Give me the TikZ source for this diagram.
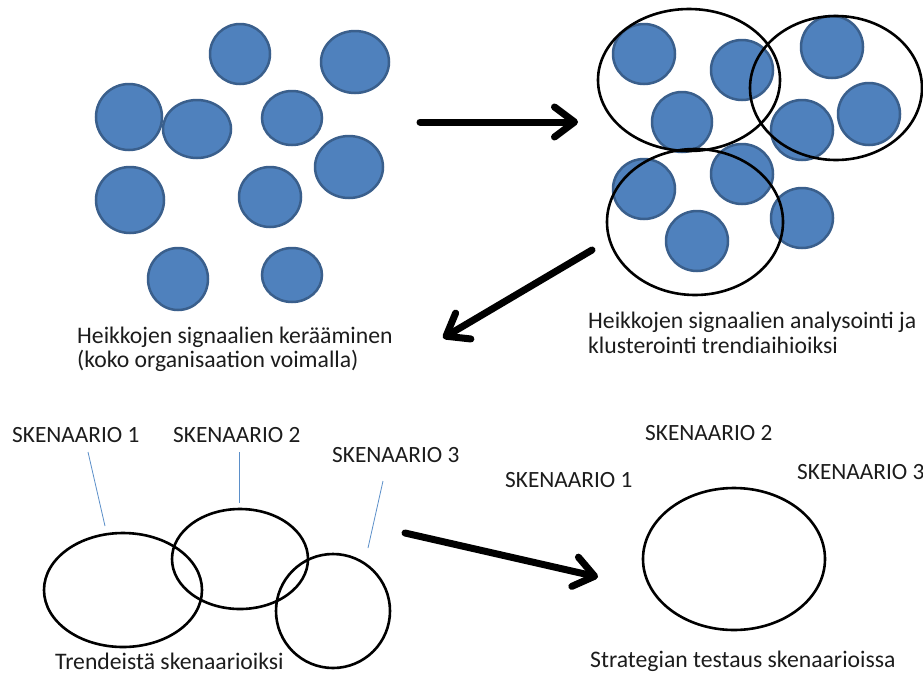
\documentclass[tikz,border=0pt]{standalone}
\usepackage{fontspec}
\setmainfont{Carlito}
\usetikzlibrary{arrows.meta}
\definecolor{dotfill}{HTML}{4F81BD}
\definecolor{dotedge}{HTML}{3A5F8C}
\definecolor{txt}{HTML}{1C1C1C}
\definecolor{pointer}{HTML}{5B8FC9}
\begin{document}
\begin{tikzpicture}[x=1pt,y=-1pt,
  dot/.style={fill=dotfill,draw=dotedge,line width=2.5pt},
  ring/.style={draw=black,line width=2.6pt},
  bigarrow/.style={line width=7pt,line cap=round,-{Straight Barb[length=20pt,width=30pt,round]}},
  thin/.style={draw=pointer,line width=0.8pt},
  lbl/.style={font=\fontsize{23.7}{24}\selectfont,text=txt,inner sep=0pt},
  skl/.style={font=\fontsize{23.3}{24}\selectfont,text=txt,inner sep=0pt,anchor=west}]
\useasboundingbox[fill=white] (0,0) rectangle (923,675);
% --- top left: collected weak signals
\foreach \x/\y/\a/\b in {240/54/30/30, 355/62/34/31, 129/117/33/33, 197/129/34/29,
  292/118/30/27, 349/167/34/31, 130/200/34/33, 270/197/31/30, 178/279/30/31, 292/275/30/27}
  \draw[dot] (\x,\y) ellipse [x radius=\a, y radius=\b];
% --- top right: clustered signals
\foreach \x/\y/\a/\b in {644/54/31/30, 742/70/31/30, 832/47/31/31, 682/122/30/30,
  802/130/31/30, 869/114/31/31, 644/189/31/30, 742/174/31/30, 802/218/31/30, 697/241/31/30}
  \draw[dot] (\x,\y) ellipse [x radius=\a, y radius=\b];
\draw[ring] (689,80) ellipse [x radius=91, y radius=71];
\draw[ring] (836,88) ellipse [x radius=86, y radius=72];
\draw[ring] (695,222) ellipse [x radius=88, y radius=73];
% --- arrows
\coordinate (a1s) at (420,122);
\coordinate (a1e) at (578,122);
\coordinate (a2s) at (592,250);
\coordinate (a2e) at (443,338);
\coordinate (a3s) at (405,533);
\coordinate (a3e) at (598,577);
\draw[bigarrow] (a1s) -- (a1e);
\draw[bigarrow] (a2s) -- (a2e);
\draw[bigarrow] (a3s) -- (a3e);
% --- captions top
\node[lbl,anchor=base west] (c1a) at (77,343) {Heikkojen signaalien kerääminen};
\node[lbl,anchor=base west] (c1b) at (77,367) {(koko organisaation voimalla)};
\node[lbl,anchor=base west] (c2a) at (588,328) {Heikkojen signaalien analysointi ja};
\node[lbl,anchor=base west] (c2b) at (588,353) {klusterointi trendiaihioiksi};
% --- bottom left: scenarios
\draw[ring] (123,590) ellipse [x radius=79, y radius=57];
\draw[ring] (240,559) ellipse [x radius=68, y radius=50];
\draw[ring] (333,611) ellipse [x radius=57, y radius=57];
\node[skl] (s1) at (12,435) {SKENAARIO 1};
\node[skl] (s2) at (173,435) {SKENAARIO 2};
\node[skl] (s3) at (332,455) {SKENAARIO 3};
\coordinate (p1a) at (88,452);
\coordinate (p1b) at (105,526);
\coordinate (p2a) at (239,452);
\coordinate (p2b) at (239,503);
\coordinate (p3a) at (383,481);
\coordinate (p3b) at (368,548);
\draw[thin] (p1a) -- (p1b);
\draw[thin] (p2a) -- (p2b);
\draw[thin] (p3a) -- (p3b);
\node[lbl,anchor=base west] (c3) at (55,669) {Trendeistä skenaarioiksi};
% --- bottom right: strategy testing
\draw[ring] (734,559) ellipse [x radius=91, y radius=71];
\node[skl] (r1) at (505,480) {SKENAARIO 1};
\node[skl] (r2) at (645,433) {SKENAARIO 2};
\node[skl] (r3) at (797,472) {SKENAARIO 3};
\node[lbl,anchor=base west] (c4) at (590,667) {Strategian testaus skenaarioissa};
\end{tikzpicture}
\end{document}
